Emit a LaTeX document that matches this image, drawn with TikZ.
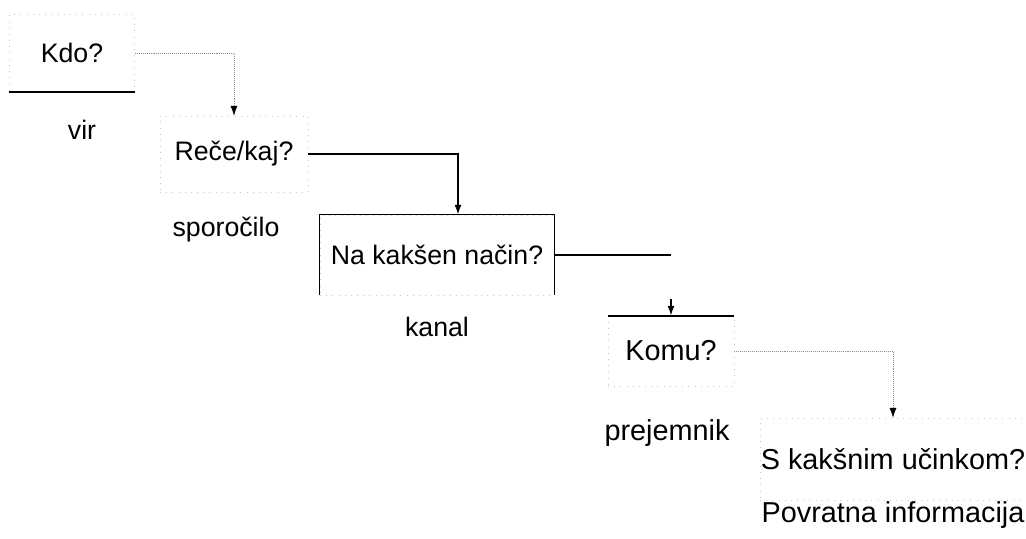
\documentclass[tikz,border=0pt]{standalone}
\usepackage{fontspec}
\setmainfont{Liberation Sans}
\usetikzlibrary{arrows.meta}

\begin{document}
\begin{tikzpicture}[x=0.025cm, y=-0.025cm,
  font=\fontsize{19}{23}\selectfont,
  big/.style={font=\fontsize{20.5}{24}\selectfont},
  box/.style={draw=black!22, loosely dotted, inner sep=0pt},
  faint/.style={draw=black!45, densely dotted, thin},
  firm/.style={draw=black, line width=1.2pt},
  tip/.style={-{Latex[length=7pt,width=5pt,black]}}]
  \useasboundingbox (0,0) rectangle (1026,539);

  % Boxes
  \node[box, minimum width=3.125cm, minimum height=1.925cm] (kdo) at (72,53) {Kdo?};
  \node[box, minimum width=3.7cm, minimum height=1.9cm] (rece) at (234,154) {Reče/kaj?};
  \node[box, minimum width=5.85cm, minimum height=2cm] (nacin) at (437,255) {Na kakšen način?};
  \node[box, big, minimum width=3.15cm, minimum height=1.75cm] (komu) at (671,351) {Komu?};
  \node[box, big, minimum width=6.65cm, minimum height=2.05cm] (ucinek) at (893,459) {S kakšnim učinkom?};

  % Labels
  \node (vir) at (82,130) {vir};
  \node (sporocilo) at (226,230) {sporočilo};
  \node (kanal) at (437,327) {kanal};
  \node[big] (prejemnik) at (667,433) {prejemnik};
  \node[big] (povratna) at (893,515) {Povratna informacija};

  % Solid edges
  \draw[firm] (kdo.south west) -- (kdo.south east);
  \draw[black, line width=0.8pt] (nacin.south west) -- (nacin.north west) -- (nacin.north east) -- (nacin.south east);
  \draw[firm] (komu.north west) -- (komu.north east);

  % Arrows
  \draw[faint, tip] (kdo.east) -| (rece.north);
  \draw[firm, tip] (rece.east) -| ([xshift=0.525cm]nacin.north);
  \draw[firm] (nacin.east) -- (nacin.east -| komu.north);
  \coordinate (gap) at (671,299);
  \draw[firm, tip] (gap) -- (komu.north);
  \draw[faint, tip] (komu.east) -| (ucinek.north);
\end{tikzpicture}
\end{document}
